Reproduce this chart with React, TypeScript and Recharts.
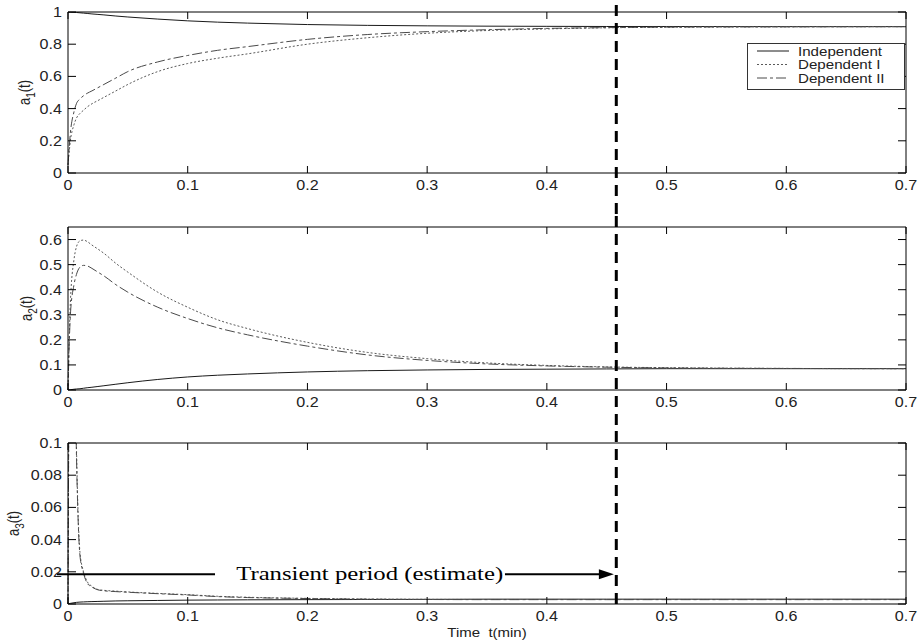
import React from "react";
import {
  LineChart,
  Line,
  XAxis,
  YAxis,
  ReferenceLine,
  ReferenceDot,
  Legend,
  Label,
} from "recharts";

const time = [
  0, 0.002, 0.005, 0.007, 0.01, 0.013, 0.016, 0.02, 0.025, 0.03, 0.04, 0.05,
  0.075, 0.1, 0.125, 0.15, 0.2, 0.25, 0.3, 0.35, 0.4, 0.45, 0.5, 0.6, 0.7,
];

const a1Independent = [
  1, 0.999, 0.998, 0.997, 0.995, 0.993, 0.991, 0.988, 0.985, 0.982, 0.975,
  0.969, 0.956, 0.945, 0.937, 0.931, 0.922, 0.917, 0.914, 0.912, 0.911, 0.91,
  0.91, 0.909, 0.909,
];
const a1DependentI = [
  0.05, 0.2, 0.3, 0.34, 0.37, 0.39, 0.41, 0.43, 0.45, 0.47, 0.51, 0.55, 0.63,
  0.68, 0.713, 0.74, 0.8, 0.84, 0.868, 0.885, 0.895, 0.902, 0.905, 0.908, 0.909,
];
const a1DependentII = [
  0.05, 0.25, 0.38, 0.43, 0.46, 0.48, 0.495, 0.51, 0.53, 0.55, 0.59, 0.63,
  0.69, 0.73, 0.762, 0.785, 0.83, 0.86, 0.878, 0.89, 0.898, 0.903, 0.906, 0.908,
  0.909,
];

const a2Independent = [
  0, 0.001, 0.003, 0.004, 0.005, 0.007, 0.009, 0.011, 0.014, 0.017, 0.023,
  0.029, 0.042, 0.052, 0.059, 0.064, 0.072, 0.077, 0.08, 0.082, 0.083, 0.084,
  0.085, 0.085, 0.085,
];
const a2DependentI = [
  0, 0.35, 0.52, 0.57, 0.595, 0.598, 0.592, 0.578, 0.562, 0.545, 0.505, 0.47,
  0.39, 0.33, 0.28, 0.245, 0.19, 0.15, 0.125, 0.108, 0.098, 0.092, 0.089, 0.086,
  0.085,
];
const a2DependentII = [
  0, 0.3, 0.42, 0.46, 0.49, 0.497, 0.495, 0.485, 0.47, 0.455, 0.42, 0.39, 0.33,
  0.285, 0.248, 0.22, 0.175, 0.14, 0.118, 0.104, 0.096, 0.091, 0.088, 0.086,
  0.085,
];

const a3Independent = [
  0, 0.0004, 0.0008, 0.001, 0.0012, 0.0013, 0.0014, 0.0015, 0.0016, 0.0017,
  0.0019, 0.002, 0.0022, 0.0024, 0.0025, 0.0026, 0.0027, 0.0028, 0.0029, 0.003,
  0.003, 0.003, 0.003, 0.003, 0.003,
];
const a3DependentI = [
  0, 0.25, 0.2, 0.1, 0.032, 0.02, 0.014, 0.011, 0.009, 0.0085, 0.008, 0.0075,
  0.0066, 0.0058, 0.0048, 0.0042, 0.0035, 0.0031, 0.0029, 0.0028, 0.0028,
  0.0028, 0.0028, 0.0028, 0.0028,
];
const a3DependentII = [
  0, 0.24, 0.19, 0.095, 0.03, 0.019, 0.013, 0.0105, 0.0088, 0.0082, 0.0077,
  0.0073, 0.0064, 0.0056, 0.0046, 0.004, 0.0034, 0.003, 0.0028, 0.0027, 0.0027,
  0.0027, 0.0027, 0.0027, 0.0027,
];

const xTicks = [0, 0.1, 0.2, 0.3, 0.4, 0.5, 0.6, 0.7];
const a1Ticks = [0, 0.2, 0.4, 0.6, 0.8, 1];
const a2Ticks = [0, 0.1, 0.2, 0.3, 0.4, 0.5, 0.6];
const a3Ticks = [0, 0.02, 0.04, 0.06, 0.08, 0.1];

const seriesNames = ["Independent", "Dependent I", "Dependent II"];
const transientEnd = 0.458;
const arrowLevel = 0.0185;
const arrowLeft = [-0.0092, 0.1228];
const arrowRight = [0.365, 0.456];
const arrowTextAt = 0.252;
const arrowText = "Transient period (estimate)";
const xTitle = "Time\u00a0 t(min)";

const SANS = "'Liberation Sans', Arial, Helvetica, sans-serif";
const SERIF = "'Liberation Serif', 'Times New Roman', serif";
const INK = "#000";

const lineStyle: Record<string, { stroke: string; dash?: string }> = {
  Independent: { stroke: "#1a1a1a" },
  "Dependent I": { stroke: "#5a5a5a", dash: "2 2" },
  "Dependent II": { stroke: "#4a4a4a", dash: "10 3 3 3" },
};

const makeRows = (a: number[], b: number[], c: number[]) =>
  time.map((t, i) => ({ t, ind: a[i], dep1: b[i], dep2: c[i] }));

const rows1 = makeRows(a1Independent, a1DependentI, a1DependentII);
const rows2 = makeRows(a2Independent, a2DependentI, a2DependentII);
const rows3 = makeRows(a3Independent, a3DependentI, a3DependentII);

// tick marks point inward (matlab style), labels drawn by hand so they can be stretched a bit
function XTick(props: any) {
  const { x, y, payload } = props;
  return (
    <g>
      <line x1={x} x2={x} y1={y - 7} y2={y - 14} stroke={INK} />
      <g transform={`translate(${x},${y}) scale(1.15,1)`}>
        <text x={0} y={0} dy="0.71em" textAnchor="middle" fontFamily={SANS} fontSize={14} fill="#222">
          {payload.value}
        </text>
      </g>
    </g>
  );
}

function YTick(props: any) {
  const { x, y, payload } = props;
  return (
    <g>
      <line x1={x + 6} x2={x + 14} y1={y} y2={y} stroke={INK} />
      <g transform={`translate(${x},${y}) scale(1.15,1)`}>
        <text x={0} y={0} dy="0.355em" textAnchor="end" fontFamily={SANS} fontSize={14} fill="#222">
          {payload.value}
        </text>
      </g>
    </g>
  );
}

function TopTick(props: any) {
  const { x, y } = props;
  return <line x1={x} x2={x} y1={y} y2={y + 7} stroke={INK} />;
}

function RightTick(props: any) {
  const { x, y } = props;
  return <line x1={x} x2={x - 8} y1={y} y2={y} stroke={INK} />;
}

const yTitle = (sub: string, dx: number) => (props: any) => {
  const vb = props.viewBox;
  const cx = vb.x + dx;
  const cy = vb.y + vb.height / 2;
  return (
    <text
      transform={`translate(${cx},${cy}) scale(1.3,1) rotate(-90)`}
      textAnchor="middle"
      fontFamily={SANS}
      fontSize={13}
      fill="#222"
    >
      a<tspan dy={4} fontSize={10}>{sub}</tspan>
      <tspan dy={-4}>(t)</tspan>
    </text>
  );
};

const xTitleContent = (props: any) => {
  const vb = props.viewBox;
  return (
    <g transform={`translate(${vb.x + vb.width / 2},${vb.y + 33}) scale(1.2,1)`}>
      <text textAnchor="middle" fontFamily={SANS} fontSize={12.5} fill="#222">
        {xTitle}
      </text>
    </g>
  );
};

const dashShape = (up: number, down: number) => (p: any) => (
  <line
    x1={p.x1}
    x2={p.x2}
    y1={Math.min(p.y1, p.y2) - up}
    y2={Math.max(p.y1, p.y2) + down}
    stroke={INK}
    strokeWidth={3}
    strokeDasharray="11 7"
  />
);

const arrowShape = (p: any) => {
  const xa = Math.min(p.x1, p.x2);
  const xb = Math.max(p.x1, p.x2);
  const y = p.y1;
  return (
    <g>
      <line x1={xa} x2={xb - 12} y1={y} y2={y} stroke={INK} strokeWidth={2} />
      <polygon points={`${xb},${y} ${xb - 15},${y - 5} ${xb - 15},${y + 5}`} fill={INK} />
    </g>
  );
};

const arrowLabel = (props: any) => {
  const vb = props.viewBox;
  const cx = vb.x + vb.width / 2;
  const cy = vb.y + vb.height / 2;
  return (
    <text
      x={cx}
      y={cy + 6}
      textAnchor="middle"
      fontFamily={SERIF}
      fontSize={19}
      fill={INK}
      textLength={267}
      lengthAdjust="spacingAndGlyphs"
    >
      {arrowText}
    </text>
  );
};

function LegendBox() {
  const rowsY = [8, 21.5, 35];
  return (
    <svg width={159} height={48} style={{ display: "block" }}>
      <rect x={0.5} y={0.5} width={157} height={46} fill="#fff" stroke="#333" strokeWidth={1} />
      {seriesNames.map((name, i) => (
        <g key={name}>
          <line
            x1={10}
            x2={42}
            y1={rowsY[i]}
            y2={rowsY[i]}
            stroke={lineStyle[name].stroke}
            strokeDasharray={lineStyle[name].dash}
            strokeWidth={1}
          />
          <g transform={`translate(51,${rowsY[i]}) scale(1.12,1)`}>
            <text x={0} y={0} dy="0.355em" fontFamily={SANS} fontSize={13.5} fill="#222">
              {name}
            </text>
          </g>
        </g>
      ))}
    </svg>
  );
}

type PanelProps = {
  rows: any[];
  domain: number[];
  ticks: number[];
  sub: string;
  labelDx: number;
  top: number;
  height: number;
  marginTop: number;
  axisHeight: number;
  dashUp: number;
  dashDown: number;
  legend?: boolean;
  title?: boolean;
  annotate?: boolean;
};

function Panel(p: PanelProps) {
  const keys = ["ind", "dep1", "dep2"];
  return (
    <div style={{ position: "absolute", left: 0, top: p.top, width: 918, height: p.height }}>
      <LineChart
        width={918}
        height={p.height}
        data={p.rows}
        margin={{ top: p.marginTop - 1, right: 11, bottom: 0, left: 28 }}
      >
        <XAxis
          xAxisId="b"
          dataKey="t"
          type="number"
          domain={[0, 0.7]}
          ticks={xTicks}
          interval={0}
          height={p.axisHeight}
          tickSize={0}
          tickMargin={7}
          tick={<XTick />}
          tickLine={false}
          axisLine={{ stroke: INK }}
        >
          {p.title && <Label content={xTitleContent} />}
        </XAxis>
        <XAxis
          xAxisId="t"
          orientation="top"
          dataKey="t"
          type="number"
          domain={[0, 0.7]}
          ticks={xTicks}
          interval={0}
          height={1}
          tickSize={0}
          tickMargin={0}
          tick={<TopTick />}
          tickLine={false}
          axisLine={{ stroke: INK }}
        />
        <YAxis
          yAxisId="l"
          type="number"
          domain={p.domain}
          ticks={p.ticks}
          interval={0}
          allowDataOverflow
          width={40}
          tickSize={0}
          tickMargin={6}
          tick={<YTick />}
          tickLine={false}
          axisLine={{ stroke: INK }}
        >
          <Label content={yTitle(p.sub, p.labelDx)} />
        </YAxis>
        <YAxis
          yAxisId="r"
          orientation="right"
          type="number"
          domain={p.domain}
          ticks={p.ticks}
          interval={0}
          allowDataOverflow
          width={1}
          tickSize={0}
          tickMargin={0}
          tick={<RightTick />}
          tickLine={false}
          axisLine={{ stroke: INK }}
        />
        {p.legend && (
          <Legend
            layout="vertical"
            align="center"
            verticalAlign="middle"
            wrapperStyle={{ top: 43, left: 747, width: 159 }}
            content={() => <LegendBox />}
          />
        )}
        {/* invisible series so the top / right frame axes get a scale */}
        <Line
          xAxisId="t"
          yAxisId="r"
          dataKey="ind"
          stroke="none"
          dot={false}
          activeDot={false}
          legendType="none"
          isAnimationActive={false}
        />
        {seriesNames.map((name, i) => (
          <Line
            key={name}
            xAxisId="b"
            yAxisId="l"
            type="monotone"
            dataKey={keys[i]}
            name={name}
            stroke={lineStyle[name].stroke}
            strokeDasharray={lineStyle[name].dash}
            strokeWidth={1}
            dot={false}
            activeDot={false}
            isAnimationActive={false}
          />
        ))}
        {p.annotate && (
          <ReferenceLine
            xAxisId="b"
            yAxisId="l"
            ifOverflow="visible"
            segment={[
              { x: arrowLeft[0], y: arrowLevel },
              { x: arrowLeft[1], y: arrowLevel },
            ]}
            stroke={INK}
            strokeWidth={2}
          />
        )}
        {p.annotate && (
          <ReferenceLine
            xAxisId="b"
            yAxisId="l"
            ifOverflow="visible"
            segment={[
              { x: arrowRight[0], y: arrowLevel },
              { x: arrowRight[1], y: arrowLevel },
            ]}
            shape={arrowShape}
          />
        )}
        {p.annotate && (
          <ReferenceDot
            xAxisId="b"
            yAxisId="l"
            x={arrowTextAt}
            y={arrowLevel}
            r={0}
            fill="none"
            stroke="none"
            ifOverflow="visible"
            label={{ content: arrowLabel }}
          />
        )}
        <ReferenceLine
          xAxisId="b"
          yAxisId="l"
          x={transientEnd}
          shape={dashShape(p.dashUp, p.dashDown)}
        />
      </LineChart>
    </div>
  );
}

export default function App() {
  return (
    <div
      style={{
        position: "absolute",
        left: 0,
        top: 0,
        width: 918,
        height: 643,
        background: "#fff",
        overflow: "hidden",
      }}
    >
      <Panel
        rows={rows1}
        domain={[0, 1]}
        ticks={a1Ticks}
        sub="1"
        labelDx={2}
        top={0}
        height={216}
        marginTop={12}
        axisHeight={43}
        dashUp={7}
        dashDown={43}
        legend
      />
      <Panel
        rows={rows2}
        domain={[0, 0.65]}
        ticks={a2Ticks}
        sub="2"
        labelDx={4}
        top={216}
        height={215}
        marginTop={11}
        axisHeight={41}
        dashUp={11}
        dashDown={41}
      />
      <Panel
        rows={rows3}
        domain={[0, 0.1]}
        ticks={a3Ticks}
        sub="3"
        labelDx={-9.5}
        top={431}
        height={211}
        marginTop={12}
        axisHeight={38}
        dashUp={12}
        dashDown={4}
        title
        annotate
      />
    </div>
  );
}
